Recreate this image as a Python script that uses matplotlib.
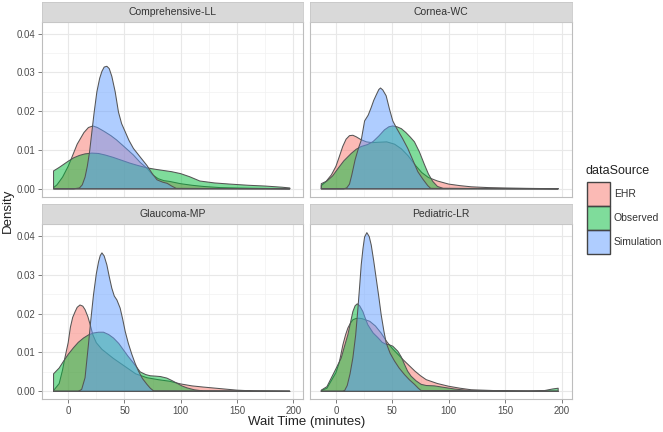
import matplotlib
matplotlib.use("Agg")
import matplotlib.pyplot as plt
from matplotlib.patches import Polygon, Rectangle
from matplotlib.colors import to_rgba

plt.rcParams['font.family'] = ['Liberation Sans', 'DejaVu Sans']

# ---------------- data ----------------
panel_names = ["Comprehensive-LL", "Cornea-WC", "Glaucoma-MP", "Pediatric-LR"]
sources = ["EHR", "Observed", "Simulation"]
x_ticks = [0, 50, 100, 150, 200]
y_ticks = [0.00, 0.01, 0.02, 0.03, 0.04]
y_tick_labels = ["0.00", "0.01", "0.02", "0.03", "0.04"]

# Comprehensive-LL
cll_ehr_x = [-13, -10, -5, 0, 3, 8, 14, 18, 22, 26, 32, 38, 43, 50, 58, 64, 70, 75, 80, 85, 90, 95, 100, 110, 120, 135, 150, 170, 197]
cll_ehr_d = [0.0003, 0.001, 0.003, 0.0058, 0.0079, 0.0115, 0.0145, 0.0158, 0.0162, 0.0158, 0.0148, 0.0137, 0.0126, 0.0108, 0.0087, 0.0068, 0.0053, 0.0036, 0.0026, 0.0021, 0.0019, 0.0016, 0.0013, 0.0009, 0.0006, 0.0003, 0.0002, 0.0001, 0.0]
cll_obs_x = [-13, -8, -4, 0, 5, 10, 15, 21, 27, 33, 40, 47, 55, 62, 70, 78, 85, 92, 100, 108, 117, 130, 144, 160, 175, 190, 197]
cll_obs_d = [0.0046, 0.0055, 0.0063, 0.0071, 0.0080, 0.0086, 0.009, 0.0092, 0.0091, 0.0087, 0.0081, 0.0074, 0.0066, 0.006, 0.0054, 0.0050, 0.0047, 0.0044, 0.0039, 0.0031, 0.0020, 0.0015, 0.0012, 0.0009, 0.0007, 0.0004, 0.0002]
cll_sim_x = [-13, 5, 10, 12.5, 15, 17, 19, 21, 23, 25.5, 28, 30, 32, 34.4, 36.5, 38.8, 41.8, 44.7, 47.5, 50.7, 54, 58, 64, 70, 75, 79, 84, 88, 92, 96, 197]
cll_sim_d = [0, 0, 0.0002, 0.001, 0.003, 0.0058, 0.0095, 0.0145, 0.0195, 0.025, 0.0285, 0.0303, 0.0314, 0.0316, 0.031, 0.029, 0.025, 0.0198, 0.0168, 0.0147, 0.0125, 0.0104, 0.0082, 0.006, 0.0038, 0.0023, 0.0017, 0.0014, 0.0007, 0.0001, 0]

# Cornea-WC
cwc_ehr_x = [-13, -9, -4, 0, 3, 6, 9, 12, 15, 18, 22, 27, 32, 38, 45, 52, 58, 64, 70, 76, 82, 90, 100, 110, 120, 135, 150, 170, 197]
cwc_ehr_d = [0.0008, 0.0018, 0.0036, 0.0058, 0.0083, 0.0109, 0.0128, 0.0137, 0.0138, 0.0134, 0.0127, 0.0121, 0.0119, 0.012, 0.0121, 0.0115, 0.0103, 0.0085, 0.0062, 0.0042, 0.0029, 0.002, 0.0012, 0.0008, 0.0005, 0.0003, 0.0002, 0.0001, 0]
cwc_obs_x = [-13, -8, -3, 2, 7, 13.5, 18, 22.4, 28, 33, 38, 43, 47, 50.4, 54, 58, 62, 66, 69.6, 74, 78.5, 82, 85.8, 90, 95, 197]
cwc_obs_d = [0.0013, 0.002, 0.0033, 0.0053, 0.0072, 0.0091, 0.0102, 0.0109, 0.0114, 0.0122, 0.0136, 0.0152, 0.016, 0.0162, 0.016, 0.0155, 0.0145, 0.0133, 0.0121, 0.0095, 0.0062, 0.0038, 0.0019, 0.0006, 0.0001, 0]
cwc_sim_x = [-13, 7, 9.5, 12, 14, 17, 20, 22.4, 25.4, 28.6, 31.3, 33.5, 35.7, 38, 39.5, 41.5, 44.5, 47.5, 50.4, 54, 59, 63.7, 68, 72.6, 77, 81.4, 84, 197]
cwc_sim_d = [0, 0, 0.0002, 0.0012, 0.0035, 0.0075, 0.0105, 0.0125, 0.0175, 0.019, 0.021, 0.0228, 0.0242, 0.0256, 0.026, 0.0255, 0.024, 0.0205, 0.0175, 0.0155, 0.013, 0.0104, 0.0075, 0.0044, 0.0025, 0.0008, 0.0001, 0]

# Glaucoma-MP
gmp_ehr_x = [-13, -8, -5, -3, 0, 2, 4, 6.2, 8, 10.5, 13, 15, 17.5, 19.6, 22, 25, 30, 40, 50, 60, 70, 80, 90, 100, 110, 120, 135, 150, 165, 197]
gmp_ehr_d = [0.0002, 0.002, 0.0055, 0.0085, 0.0125, 0.0165, 0.019, 0.0205, 0.0216, 0.0222, 0.0219, 0.021, 0.0192, 0.0171, 0.0145, 0.0125, 0.0108, 0.0085, 0.0065, 0.0045, 0.0035, 0.003, 0.0026, 0.0019, 0.0014, 0.0011, 0.0007, 0.0003, 0.0001, 0]
gmp_obs_x = [-13, -8, -4, 0, 4.7, 9, 13.6, 18, 22.5, 27, 31.4, 36, 40.3, 45, 49, 53, 58, 64, 69, 73, 78, 82, 87.7, 92, 96.6, 101, 105.5, 112, 120, 197]
gmp_obs_d = [0.0045, 0.006, 0.0078, 0.0095, 0.0112, 0.0126, 0.0137, 0.0145, 0.015, 0.0152, 0.0152, 0.0146, 0.0137, 0.0123, 0.0107, 0.0091, 0.0073, 0.0050, 0.0043, 0.004, 0.0039, 0.0038, 0.0034, 0.0028, 0.0021, 0.0014, 0.0009, 0.0004, 0.0001, 0]
gmp_sim_x = [-13, 9, 12, 15, 18, 20, 22.5, 25, 27, 28.5, 30, 32, 34.4, 36.5, 38.8, 41, 43.3, 46.2, 48.5, 50.7, 53.5, 56.6, 59.5, 62.5, 66, 70, 73, 76, 197]
gmp_sim_d = [0, 0, 0.0005, 0.0035, 0.012, 0.018, 0.0248, 0.0302, 0.0333, 0.0349, 0.0356, 0.0348, 0.0325, 0.0295, 0.0265, 0.0245, 0.0235, 0.0214, 0.0185, 0.0154, 0.0123, 0.0095, 0.0072, 0.0052, 0.0033, 0.0018, 0.0008, 0.0001, 0]

# Pediatric-LR
plr_ehr_x = [-13, -8, -4, 0, 3, 6.2, 8.5, 10.6, 13, 15, 17.5, 20, 23, 26, 30, 35, 40, 45, 50, 55, 60, 65, 70, 75, 80, 90, 100, 110, 120, 140, 160, 197]
plr_ehr_d = [0.0002, 0.0008, 0.0028, 0.0048, 0.0075, 0.012, 0.0145, 0.0163, 0.0176, 0.0184, 0.0187, 0.0188, 0.0187, 0.0184, 0.018, 0.0168, 0.015, 0.0128, 0.011, 0.0095, 0.008, 0.0066, 0.0052, 0.004, 0.003, 0.002, 0.0013, 0.0008, 0.0004, 0.0002, 0.0001, 0]
plr_obs_x = [-13, -8, -4, 0, 4.7, 7.5, 10.6, 13, 15, 17, 18.9, 21, 23.9, 26, 28.3, 33, 37.2, 41, 44.5, 47, 50.4, 54.9, 58, 60.8, 63.5, 66.6, 71, 75.5, 80, 87.3, 96, 105, 115, 130, 150, 170, 185, 192, 197]
plr_obs_d = [0.0003, 0.0012, 0.0035, 0.0058, 0.0086, 0.0115, 0.0146, 0.0178, 0.0205, 0.022, 0.0225, 0.022, 0.0205, 0.0188, 0.0171, 0.015, 0.0138, 0.0126, 0.0121, 0.012, 0.0116, 0.0103, 0.0088, 0.0069, 0.0052, 0.0039, 0.0027, 0.0018, 0.0015, 0.0014, 0.001, 0.0006, 0.0003, 0.0001, 0.0, 0.0, 0.0002, 0.0006, 0.0008]
plr_sim_x = [-13, 6, 7.7, 10, 12.5, 15, 17.5, 19.5, 21, 22.4, 24, 25.4, 27.4, 29.5, 31.3, 33.5, 35.7, 38, 40.1, 42.5, 44.5, 48, 51.9, 56, 60.8, 65, 69.6, 73, 75.5, 197]
plr_sim_d = [0, 0, 0.0002, 0.0015, 0.0045, 0.0086, 0.0145, 0.0214, 0.027, 0.0325, 0.0368, 0.0397, 0.0408, 0.0398, 0.0376, 0.0335, 0.029, 0.0243, 0.0197, 0.0155, 0.0125, 0.0098, 0.0078, 0.006, 0.0043, 0.003, 0.0018, 0.0008, 0.0002, 0]

panel_data = {
    "Comprehensive-LL": [(cll_ehr_x, cll_ehr_d), (cll_obs_x, cll_obs_d), (cll_sim_x, cll_sim_d)],
    "Cornea-WC": [(cwc_ehr_x, cwc_ehr_d), (cwc_obs_x, cwc_obs_d), (cwc_sim_x, cwc_sim_d)],
    "Glaucoma-MP": [(gmp_ehr_x, gmp_ehr_d), (gmp_obs_x, gmp_obs_d), (gmp_sim_x, gmp_sim_d)],
    "Pediatric-LR": [(plr_ehr_x, plr_ehr_d), (plr_obs_x, plr_obs_d), (plr_sim_x, plr_sim_d)],
}

# ---------------- styling ----------------
colors = ["#F8766D", "#00BA38", "#619CFF"]
fill_alpha = 0.5
edge_col = "#555555"
W, H = 663, 432
fig = plt.figure(figsize=(W / 100, H / 100), dpi=100)
fig.patch.set_facecolor("white")


def box(x0, y0, x1, y1):
    return [x0 / W, 1 - y1 / H, (x1 - x0) / W, (y1 - y0) / H]


panel_boxes = {
    "Comprehensive-LL": (42.3, 22.3, 303.3, 196.7),
    "Cornea-WC": (310, 22.3, 571.7, 196.7),
    "Glaucoma-MP": (42.3, 224.3, 303.3, 399.3),
    "Pediatric-LR": (310, 224.3, 571.7, 399.3),
}
strip_h = 20.8

tick_col = "#4D4D4D"
for i, name in enumerate(panel_names):
    x0, y0, x1, y1 = panel_boxes[name]
    ax = fig.add_axes(box(x0, y0, x1, y1))
    ax.set_xlim(-23, 209)
    ax.set_ylim(-0.00205, 0.04295)
    ax.set_facecolor("white")
    # grid
    for gx in [25, 75, 125, 175]:
        ax.axvline(gx, color="#F2F2F2", lw=0.5, zorder=0)
    for gy in [0.005, 0.015, 0.025, 0.035]:
        ax.axhline(gy, color="#F2F2F2", lw=0.5, zorder=0)
    for gx in x_ticks:
        ax.axvline(gx, color="#E8E8E8", lw=0.8, zorder=0)
    for gy in y_ticks:
        ax.axhline(gy, color="#E8E8E8", lw=0.8, zorder=0)
    # densities
    for (xs, ds), col in zip(panel_data[name], colors):
        verts = list(zip(xs, ds)) + [(xs[-1], 0.0), (xs[0], 0.0)]
        poly = Polygon(verts, closed=True, facecolor=to_rgba(col, fill_alpha),
                       edgecolor=edge_col, linewidth=0.75, zorder=2, joinstyle="round")
        ax.add_patch(poly)
    ax.set_xticks(x_ticks)
    ax.set_yticks(y_ticks)
    ax.tick_params(axis="both", length=3, width=0.6, color="#666666",
                   labelsize=7, labelcolor=tick_col, pad=2)
    if i % 2 == 0:
        ax.set_yticklabels(y_tick_labels)
    else:
        ax.tick_params(axis="y", left=False, labelleft=False)
    if i >= 2:
        ax.set_xticklabels([str(t) for t in x_ticks])
    else:
        ax.tick_params(axis="x", bottom=False, labelbottom=False)
    for s in ax.spines.values():
        s.set_color("#BDBDBD")
        s.set_linewidth(0.8)
    # strip
    sax = fig.add_axes(box(x0, y0 - strip_h, x1, y0))
    sax.set_xticks([])
    sax.set_yticks([])
    sax.set_facecolor("#D9D9D9")
    for s in sax.spines.values():
        s.set_color("#C8C8C8")
        s.set_linewidth(0.6)
    sax.text(0.5, 0.5, name, ha="center", va="center", fontsize=7.5, color="#333333",
             transform=sax.transAxes)

# axis titles
fig.text(307 / W, 1 - 422 / H, "Wait Time (minutes)", ha="center", va="center",
         fontsize=9.5, color="#222222")
fig.text(8 / W, 1 - 210.8 / H, "Density", ha="center", va="center", rotation=90,
         fontsize=9.5, color="#222222")

# legend
fig.text(585 / W, 1 - 171 / H, "dataSource", ha="left", va="center", fontsize=9, color="#222222")
key_x0, key_x1 = 587, 610
key_y0, key_h = 182, 24
for j, (src, col) in enumerate(zip(sources, colors)):
    ky0 = key_y0 + j * key_h
    rect = Rectangle((key_x0 / W, 1 - (ky0 + key_h) / H), (key_x1 - key_x0) / W, key_h / H,
                     transform=fig.transFigure, facecolor=to_rgba(col, fill_alpha),
                     edgecolor="#444444", linewidth=1.0)
    fig.add_artist(rect)
    fig.text(614 / W, 1 - (ky0 + key_h / 2) / H, src, ha="left", va="center",
             fontsize=7.5, color="#333333")

fig.savefig("out.png", dpi=100, facecolor="white")
